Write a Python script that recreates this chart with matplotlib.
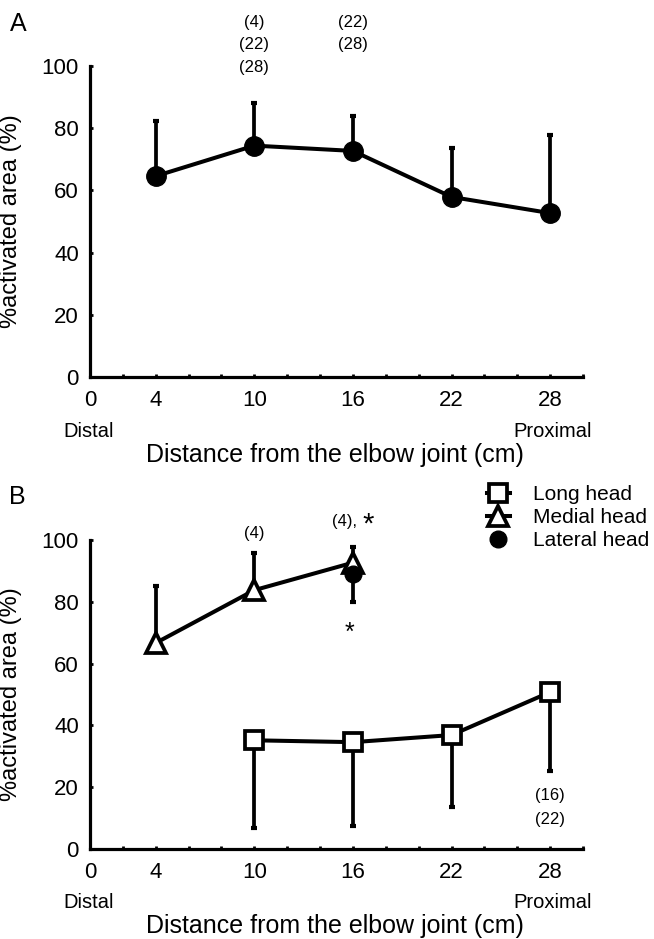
import numpy as np
import matplotlib
matplotlib.use("Agg")
import matplotlib.pyplot as plt

plt.rcParams['font.family'] = ['Liberation Sans', 'DejaVu Sans']

# distance from the elbow joint (cm)
DIST_A = [4, 10, 16, 22, 28]
LATERAL_A = [64.6, 74.4, 72.7, 57.9, 52.7]
LATERAL_A_SD = [17.7, 13.7, 11.2, 15.7, 25.1]

LONG_X = [10, 16, 22, 28]
LONG = [35.2, 34.6, 36.9, 50.8]
LONG_SD = [28.3, 27.1, 23.3, 25.5]

MEDIAL_X = [4, 10, 16]
MEDIAL = [66.7, 83.8, 92.7]
MEDIAL_SD = [18.4, 11.9, 5.1]

LATERAL_X = [16]
LATERAL = [89.0]
LATERAL_SD = [9.0]

XTICKS = [0, 4, 10, 16, 22, 28]
YTICKS = [0, 20, 40, 60, 80, 100]

LW = 2.9


def style_axes(ax):
    """Common axis look for both panels"""
    ax.set_xlim(0, 30)
    ax.set_ylim(0, 100)
    for side in ("top", "right"):
        ax.spines[side].set_visible(False)
    for side in ("left", "bottom"):
        ax.spines[side].set_linewidth(2.3)
    ax.set_xticks(XTICKS)
    ax.set_xticks(np.arange(0, 31, 2), minor=True)
    ax.set_yticks(YTICKS)
    ax.tick_params(axis="both", which="both", direction="in", length=2.5, width=2, labelsize=16)
    ax.tick_params(axis="x", which="major", pad=9)
    ax.tick_params(axis="y", which="major", pad=8)
    ax.set_ylabel("%activated area (%)", fontsize=17)
    ax.yaxis.set_label_coords(-0.138, 0.5)
    ax.text(-0.055, -0.174, "Distal", transform=ax.transAxes, fontsize=14.5, ha="left", va="center")
    ax.text(1.018, -0.174, "Proximal", transform=ax.transAxes, fontsize=14.5, ha="right", va="center")
    ax.text(0.497, -0.25, "Distance from the elbow joint (cm)", transform=ax.transAxes,
            fontsize=18, ha="center", va="center")


def one_sided(ax, x, y, err, upper=True, zorder=1):
    zeros = np.zeros(len(err))
    yerr = [zeros, err] if upper else [err, zeros]
    ax.errorbar(x, y, yerr=yerr, fmt="none", ecolor="black", elinewidth=2.7,
                capsize=2.2, capthick=3, zorder=zorder, clip_on=False)


fig = plt.figure(figsize=(6.54, 9.39), dpi=100)
ax_a = fig.add_axes([0.1376, 0.5985, 0.7538, 0.3312])
ax_b = fig.add_axes([0.1376, 0.0958, 0.7538, 0.3290])

# panel A
style_axes(ax_a)
one_sided(ax_a, DIST_A, LATERAL_A, LATERAL_A_SD, upper=True)
ax_a.plot(DIST_A, LATERAL_A, color="black", lw=LW, marker="o", markersize=14,
          zorder=3, clip_on=False)
for txt, yy in [("(4)", 114), ("(22)", 106.8), ("(28)", 99.4)]:
    ax_a.text(10, yy, txt, ha="center", va="center", fontsize=12, clip_on=False)
for txt, yy in [("(22)", 114), ("(28)", 106.8)]:
    ax_a.text(16, yy, txt, ha="center", va="center", fontsize=12, clip_on=False)
fig.text(18 / 654, 1 - 24 / 939, "A", fontsize=18, ha="center", va="center")

# panel B
style_axes(ax_b)
one_sided(ax_b, LONG_X, LONG, LONG_SD, upper=False)
one_sided(ax_b, MEDIAL_X, MEDIAL, MEDIAL_SD, upper=True)
one_sided(ax_b, LATERAL_X, LATERAL, LATERAL_SD, upper=False, zorder=4)
h_long, = ax_b.plot(LONG_X, LONG, color="black", lw=LW, marker="s", markersize=12.5,
                    markerfacecolor="white", markeredgewidth=2.7, zorder=3, clip_on=False)
h_med, = ax_b.plot(MEDIAL_X, MEDIAL, color="black", lw=LW, marker="^", markersize=14,
                   markerfacecolor="white", markeredgewidth=2.7, zorder=3, clip_on=False)
h_lat, = ax_b.plot(LATERAL_X, LATERAL, color="black", lw=0, marker="o", markersize=12,
                   zorder=5, clip_on=False)
ax_b.text(10, 102.3, "(4)", ha="center", va="center", fontsize=12, clip_on=False)
ax_b.text(15.5, 106, "(4),", ha="center", va="center", fontsize=12, clip_on=False)
ax_b.text(16.9, 105, "*", ha="center", va="center", fontsize=21, clip_on=False)
ax_b.text(15.8, 70, "*", ha="center", va="center", fontsize=18, clip_on=False)
ax_b.text(28, 17.2, "(16)", ha="center", va="center", fontsize=12, clip_on=False)
ax_b.text(28, 9.7, "(22)", ha="center", va="center", fontsize=12, clip_on=False)
fig.text(17 / 654, 1 - 497 / 939, "B", fontsize=18, ha="center", va="center")

fig.legend([h_long, h_med, h_lat], ["Long head", "Medial head", "Lateral head"],
           loc="upper left", bbox_to_anchor=(487 / 654, 1 - 485 / 939), frameon=False,
           fontsize=15, handlelength=1.1, handletextpad=1.1, labelspacing=0.2,
           borderpad=0, borderaxespad=0)

fig.savefig("out.png", dpi=100)
